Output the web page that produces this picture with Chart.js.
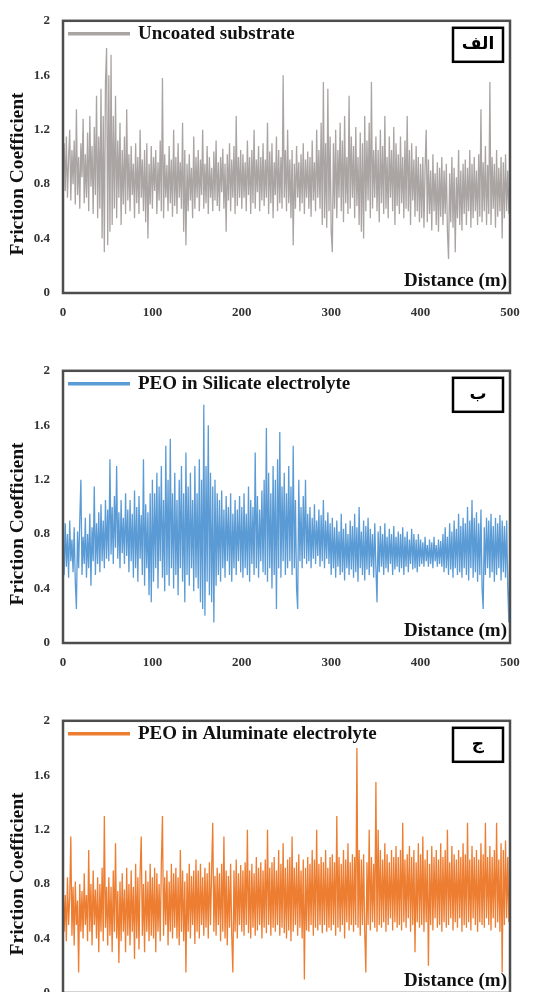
<!DOCTYPE html>
<html lang="en">

<head>
    <meta charset="UTF-8">
    <title>Friction Coefficient</title>
    <script src="https://cdn.jsdelivr.net/npm/chart.js"></script>
    <style>
        body { margin: 0; background: #fff; overflow: hidden; }
        .panel { position: absolute; left: 0; width: 536px; height: 330px; }
    </style>
</head>

<body>

    <div class="panel" style="top: 0px;"><canvas id="chartA" width="536" height="330"></canvas></div>
    <div class="panel" style="top: 350px;"><canvas id="chartB" width="536" height="330"></canvas></div>
    <div class="panel" style="top: 700px;"><canvas id="chartC" width="536" height="330"></canvas></div>

    <script>
        // one sample every 1.25 m, 0 .. 500 m (20 samples = 25 m per row)
        const STEP = 1.25;
        const xTicks = [0, 100, 200, 300, 400, 500];
        const yTicks = [0, 0.4, 0.8, 1.2, 1.6, 2];

        const uncoated = [
            0.9, 1.1, 0.75, 1.15, 0.7, 0.98, 1.2, 0.68, 1.05, 0.8, 1.12, 0.65, 1.35, 0.72, 1.0, 0.62, 1.1, 0.85, 1.28, 0.66,
            1.02, 0.7, 1.18, 0.6, 1.3, 0.78, 1.08, 0.58, 1.22, 0.72, 1.45, 0.55, 1.15, 0.62, 1.5, 0.4, 1.3, 0.3, 1.55, 1.8,
            0.35, 1.6, 0.45, 1.75, 0.5, 1.3, 0.62, 1.45, 0.55, 1.12, 0.7, 1.25, 0.5, 1.05, 0.65, 1.15, 0.58, 1.35, 0.68, 1.02,
            0.6, 1.08, 0.72, 0.95, 0.55, 1.1, 0.66, 1.0, 0.58, 1.2, 0.7, 0.98, 0.6, 1.05, 0.52, 1.1, 0.4, 0.95, 0.65, 1.08,
            0.62, 1.0, 0.75, 1.05, 0.58, 0.96, 0.68, 1.12, 0.6, 1.58, 0.55, 1.02, 0.7, 0.94, 0.6, 1.08, 0.66, 0.98, 0.56, 1.2,
            0.64, 1.0, 0.58, 1.1, 0.7, 0.96, 0.62, 1.25, 0.45, 1.05, 0.35, 0.95, 0.6, 1.02, 0.68, 0.92, 0.55, 1.15, 0.62, 1.0,
            0.7, 1.05, 0.6, 0.98, 0.72, 1.2, 0.62, 0.95, 0.66, 1.08, 0.58, 1.0, 0.7, 0.92, 0.6, 1.04, 0.68, 1.12, 0.64, 0.96,
            0.6, 1.0, 0.74, 1.06, 0.62, 0.95, 0.45, 1.02, 0.68, 1.1, 0.6, 0.98, 0.7, 1.08, 0.58, 1.3, 0.64, 1.0, 0.7, 1.05,
            0.62, 1.02, 0.7, 0.96, 0.6, 1.12, 0.72, 1.0, 0.58, 1.05, 0.66, 1.2, 0.62, 0.98, 0.74, 1.08, 0.6, 1.0, 0.68, 1.1,
            0.64, 0.98, 0.7, 1.25, 0.58, 1.04, 0.66, 1.1, 0.55, 0.96, 0.72, 1.15, 0.6, 1.05, 0.66, 1.0, 0.62, 1.6, 0.7, 1.05,
            0.6, 1.2, 0.66, 0.98, 0.55, 1.05, 0.35, 0.95, 0.62, 1.08, 0.7, 0.96, 0.6, 1.02, 0.66, 1.1, 0.58, 0.98, 0.7, 1.04,
            0.62, 1.0, 0.56, 1.12, 0.68, 0.96, 0.6, 1.2, 0.7, 1.05, 0.62, 1.25, 0.5, 1.55, 0.55, 1.1, 0.48, 1.5, 0.6, 1.15,
            0.45, 0.3, 1.1, 0.62, 1.2, 0.55, 1.05, 0.7, 1.25, 0.6, 1.12, 0.52, 1.3, 0.66, 1.0, 0.58, 1.45, 0.62, 1.15, 0.7,
            1.08, 0.55, 1.22, 0.64, 1.0, 0.5, 1.18, 0.45, 1.1, 0.4, 1.3, 0.6, 1.12, 0.68, 1.25, 0.55, 1.55, 0.62, 1.05, 0.7,
            1.15, 0.6, 1.05, 0.52, 1.2, 0.66, 1.08, 0.58, 1.3, 0.62, 1.0, 0.55, 1.15, 0.7, 1.05, 0.6, 1.22, 0.5, 1.1, 0.64,
            1.02, 0.58, 1.15, 0.66, 1.0, 0.55, 1.12, 0.62, 1.3, 0.6, 1.05, 0.5, 1.1, 0.68, 0.98, 0.56, 1.08, 0.6, 1.0, 0.52,
            0.95, 0.55, 1.0, 0.48, 0.92, 1.2, 0.52, 0.98, 0.58, 0.9, 0.46, 1.02, 0.6, 0.88, 0.5, 0.96, 0.45, 0.92, 0.56, 1.0,
            0.5, 0.9, 0.58, 0.95, 0.45, 0.25, 0.88, 0.52, 1.0, 0.48, 0.92, 0.3, 0.85, 0.55, 1.05, 0.5, 0.9, 0.46, 0.95, 0.58,
            0.98, 0.5, 0.92, 0.6, 1.05, 0.48, 0.95, 0.55, 1.0, 0.6, 0.9, 0.5, 1.02, 0.56, 1.35, 0.52, 0.96, 0.6, 1.08, 0.5,
            0.94, 0.58, 1.55, 0.5, 1.0, 0.62, 0.95, 0.48, 1.05, 0.56, 0.92, 0.6, 1.0, 0.4, 0.96, 0.55, 1.02, 0.6, 0.9, 0.58,
            0.85
        ];

        const silicate = [
            0.72, 0.5, 0.88, 0.56, 0.8, 0.48, 0.9, 0.6, 0.76, 0.52, 0.85, 0.45, 0.25, 0.82, 0.55, 0.9, 1.2, 0.5, 0.78, 0.58,
            0.92, 0.48, 0.8, 0.55, 0.95, 0.42, 0.85, 0.6, 1.15, 0.5, 0.88, 0.58, 0.96, 0.52, 1.02, 0.6, 0.9, 0.55, 1.05, 0.62,
            0.98, 0.6, 1.35, 0.65, 1.0, 0.58, 1.08, 0.7, 1.3, 0.62, 0.96, 0.55, 1.05, 0.66, 0.92, 0.58, 1.1, 0.64, 0.98, 0.52,
            1.05, 0.6, 0.95, 0.48, 1.12, 0.55, 1.0, 0.45, 1.08, 0.62, 0.94, 0.5, 1.35, 0.42, 1.02, 0.55, 0.96, 0.35, 1.1, 0.3,
            1.2, 0.45, 1.1, 0.55, 1.25, 0.4, 1.15, 0.6, 1.3, 0.48, 1.05, 0.38, 1.45, 0.5, 1.2, 0.42, 1.5, 0.55, 1.1, 0.4,
            1.25, 0.5, 1.05, 0.35, 1.2, 0.55, 1.3, 0.45, 1.1, 0.3, 1.4, 0.5, 1.15, 0.42, 1.25, 0.55, 1.05, 0.38, 1.3, 0.48,
            1.1, 0.4, 1.35, 0.3, 1.2, 0.25, 1.75, 0.2, 1.3, 0.45, 1.6, 0.35, 1.25, 0.3, 1.15, 0.15, 1.2, 0.42, 1.1, 0.5,
            1.05, 0.45, 1.12, 0.55, 0.98, 0.48, 1.08, 0.6, 1.0, 0.5, 1.1, 0.45, 0.95, 0.55, 1.05, 0.5, 0.98, 0.6, 1.08, 0.52,
            1.0, 0.48, 1.1, 0.55, 0.95, 0.5, 1.15, 0.45, 1.05, 0.58, 1.0, 0.5, 1.4, 0.55, 1.08, 0.48, 0.98, 0.6, 1.12, 0.52,
            1.2, 0.5, 1.58, 0.45, 1.25, 0.55, 1.1, 0.4, 1.3, 0.5, 1.2, 0.25, 1.35, 0.55, 1.55, 0.48, 1.15, 0.6, 1.25, 0.5,
            1.1, 0.55, 1.3, 0.6, 1.15, 0.5, 1.45, 0.55, 1.05, 0.4, 0.25, 1.2, 0.6, 1.0, 0.55, 1.08, 0.62, 1.2, 0.58, 0.95,
            0.6, 1.0, 0.55, 0.92, 0.62, 1.02, 0.58, 0.9, 0.64, 0.98, 0.56, 0.94, 0.6, 1.05, 0.55, 0.9, 0.62, 0.96, 0.58, 0.88,
            0.5, 0.92, 0.55, 0.85, 0.48, 0.9, 0.56, 0.82, 0.5, 0.95, 0.52, 0.84, 0.46, 0.88, 0.55, 0.8, 0.5, 0.9, 0.54, 0.86,
            0.48, 0.95, 0.52, 0.85, 0.45, 1.0, 0.55, 0.82, 0.5, 0.9, 0.46, 0.86, 0.54, 0.92, 0.5, 0.84, 0.56, 0.8, 0.48, 0.88,
            0.55, 0.3, 0.82, 0.52, 0.86, 0.56, 0.8, 0.5, 0.88, 0.55, 0.78, 0.52, 0.84, 0.58, 0.8, 0.5, 0.86, 0.54, 0.78, 0.56,
            0.82, 0.52, 0.8, 0.55, 0.85, 0.5, 0.78, 0.56, 0.82, 0.52, 0.76, 0.58, 0.84, 0.54, 0.8, 0.55, 0.76, 0.52, 0.8, 0.56,
            0.76, 0.58, 0.74, 0.56, 0.78, 0.6, 0.72, 0.56, 0.76, 0.58, 0.74, 0.55, 0.78, 0.6, 0.72, 0.56, 0.76, 0.58, 0.75, 0.56,
            0.8, 0.52, 0.85, 0.55, 0.78, 0.5, 0.88, 0.54, 0.82, 0.48, 0.9, 0.55, 0.84, 0.5, 0.95, 0.52, 0.86, 0.48, 0.92, 0.55,
            0.88, 0.5, 1.0, 0.46, 0.9, 0.55, 1.05, 0.48, 0.92, 0.52, 0.96, 0.45, 0.88, 0.5, 0.98, 0.4, 0.25, 0.85, 0.5, 0.92,
            0.55, 0.9, 0.48, 0.95, 0.52, 0.86, 0.45, 0.92, 0.5, 0.88, 0.55, 0.94, 0.46, 0.9, 0.52, 0.86, 0.48, 0.9, 0.4, 0.15,
            0.85
        ];

        const aluminate = [
            0.8, 0.45, 0.72, 0.38, 0.85, 0.5, 0.7, 1.15, 0.42, 0.78, 0.35, 0.82, 0.5, 0.68, 0.15, 0.8, 0.45, 0.75, 0.4, 0.88,
            0.5, 0.72, 0.38, 1.05, 0.45, 0.8, 0.35, 0.9, 0.5, 0.76, 0.4, 0.85, 0.3, 0.8, 0.45, 0.92, 0.38, 1.3, 0.48, 0.78,
            0.35, 0.85, 0.42, 0.78, 0.3, 0.9, 0.45, 1.1, 0.4, 0.75, 0.22, 0.82, 0.38, 0.88, 0.45, 0.76, 0.3, 0.92, 0.42, 0.8,
            0.35, 0.9, 0.45, 0.78, 0.25, 0.95, 0.4, 0.85, 0.32, 0.88, 1.15, 0.42, 0.8, 0.3, 0.9, 0.45, 0.82, 0.38, 0.95, 0.42,
            0.85, 0.4, 0.92, 0.3, 0.88, 0.45, 0.8, 0.38, 0.95, 1.3, 0.42, 0.85, 0.5, 0.9, 0.35, 0.82, 0.45, 0.95, 0.4, 0.88,
            0.48, 0.92, 0.4, 0.85, 0.35, 1.05, 0.45, 0.9, 0.38, 0.82, 0.15, 0.88, 0.45, 0.95, 0.4, 0.86, 0.5, 0.9, 0.36, 0.98,
            0.45, 0.9, 0.4, 0.95, 0.5, 0.85, 0.42, 0.92, 0.48, 0.88, 0.4, 0.96, 0.5, 0.9, 1.25, 0.45, 0.86, 0.42, 0.92, 0.5,
            0.88, 0.38, 0.95, 0.45, 1.15, 0.4, 0.9, 0.35, 0.86, 0.48, 0.95, 0.42, 0.15, 0.9, 0.45, 0.98, 0.4, 0.88, 0.5, 0.94,
            0.45, 0.9, 0.42, 0.96, 0.5, 1.2, 0.44, 0.9, 0.4, 0.95, 0.48, 0.88, 0.42, 1.0, 0.46, 0.92, 0.5, 0.96, 0.4, 0.9,
            0.48, 0.98, 0.44, 1.2, 0.5, 0.92, 0.42, 0.96, 0.48, 1.0, 0.45, 0.9, 0.5, 1.05, 0.42, 0.95, 0.48, 1.1, 0.44, 0.92,
            0.4, 0.98, 0.46, 1.0, 0.38, 1.15, 0.45, 0.92, 0.5, 0.96, 0.42, 1.02, 0.48, 0.9, 0.4, 0.98, 0.1, 0.92, 0.46, 1.0,
            0.45, 0.95, 0.5, 1.05, 0.42, 0.98, 0.48, 1.2, 0.46, 0.95, 0.5, 1.0, 0.44, 0.96, 0.5, 1.05, 0.45, 0.92, 0.48, 1.0,
            0.46, 1.02, 0.5, 0.96, 0.42, 1.3, 0.48, 1.0, 0.45, 0.95, 0.5, 1.05, 0.4, 0.98, 0.52, 1.1, 0.46, 0.96, 0.5, 1.02,
            0.45, 1.0, 0.5, 1.8, 0.48, 1.05, 0.42, 0.98, 0.5, 1.02, 0.45, 0.15, 0.96, 0.5, 1.2, 0.46, 1.0, 0.52, 0.95, 0.48,
            1.55, 0.45, 1.2, 0.5, 1.05, 0.48, 0.98, 0.52, 1.1, 0.45, 1.02, 0.5, 0.96, 0.55, 1.05, 0.46, 1.0, 0.52, 1.08, 0.48,
            1.0, 0.5, 1.05, 0.46, 1.25, 0.52, 0.98, 0.48, 1.02, 0.55, 1.08, 0.45, 1.0, 0.5, 1.05, 0.3, 0.96, 0.52, 1.1, 0.48,
            1.02, 0.5, 1.15, 0.45, 0.98, 0.52, 1.05, 0.2, 0.95, 0.5, 1.08, 0.46, 1.0, 0.55, 1.05, 0.48, 0.98, 0.5, 1.1, 0.45,
            1.0, 0.52, 1.05, 0.48, 1.2, 0.5, 0.96, 0.55, 1.08, 0.46, 1.02, 0.52, 0.98, 0.48, 1.05, 0.55, 1.0, 0.45, 1.1, 0.5,
            1.02, 0.48, 1.25, 0.52, 0.98, 0.46, 1.08, 0.55, 1.0, 0.5, 1.05, 0.45, 0.98, 0.52, 1.1, 0.5, 1.02, 0.48, 1.25, 0.55,
            1.0, 0.5, 1.08, 0.46, 1.0, 0.55, 1.05, 0.48, 1.25, 0.52, 0.98, 0.45, 1.1, 0.15, 1.05, 0.5, 1.12, 0.55, 1.0, 0.52,
            0.8
        ];

        const SERIF = '"Liberation Serif", "Times New Roman", serif';

        // frame, legend, panel tag and axis titles drawn on top of the plot
        const decorations = {
            id: 'decorations',
            afterDraw(chart, args, opts) {
                const ctx = chart.ctx;
                const a = chart.chartArea;
                ctx.save();

                // plot frame
                ctx.strokeStyle = '#4d4d4d';
                ctx.lineWidth = 2.5;
                ctx.strokeRect(a.left, a.top, a.right - a.left, a.bottom - a.top);

                // legend line + text
                const ds = chart.data.datasets[0];
                ctx.strokeStyle = ds.borderColor;
                ctx.lineWidth = 3.5;
                ctx.beginPath();
                ctx.moveTo(a.left + 5, a.top + 13);
                ctx.lineTo(a.left + 67, a.top + 13);
                ctx.stroke();
                ctx.fillStyle = '#111';
                ctx.font = 'bold 19px ' + SERIF;
                ctx.textAlign = 'left';
                ctx.textBaseline = 'middle';
                ctx.fillText(ds.label, a.left + 75, a.top + 13);

                // panel tag box
                ctx.strokeStyle = '#000';
                ctx.lineWidth = 2.5;
                ctx.fillStyle = '#fff';
                ctx.fillRect(a.right - 57, a.top + 7, 50, 34);
                ctx.strokeRect(a.right - 57, a.top + 7, 50, 34);
                ctx.fillStyle = '#000';
                ctx.font = 'bold 17px "DejaVu Sans", sans-serif';
                ctx.textAlign = 'center';
                ctx.fillText(opts.tag, a.right - 32, a.top + 24);

                // x title inside the plot
                ctx.font = 'bold 19px ' + SERIF;
                ctx.textAlign = 'right';
                ctx.fillStyle = '#111';
                ctx.fillText('Distance (m)', a.right - 3, a.bottom - 12);

                // y title
                ctx.font = 'bold 19.5px ' + SERIF;
                ctx.translate(18, (a.top + a.bottom) / 2 + 17);
                ctx.rotate(-Math.PI / 2);
                ctx.textAlign = 'center';
                ctx.fillText('Friction Coefficient', 0, 0);

                ctx.restore();
            }
        };

        function makePanel(id, label, tag, color, values) {
            const points = values.map((v, i) => ({ x: i * STEP, y: v }));
            return new Chart(document.getElementById(id), {
                type: 'line',
                data: {
                    datasets: [{
                        label: label,
                        data: points,
                        borderColor: color,
                        borderWidth: 1.3,
                        pointRadius: 0,
                        tension: 0
                    }]
                },
                options: {
                    responsive: false,
                    animation: false,
                    layout: { padding: { left: 0, right: 26, top: 20, bottom: 0 } },
                    plugins: {
                        legend: { display: false },
                        tooltip: { enabled: false },
                        decorations: { tag: tag }
                    },
                    scales: {
                        x: {
                            type: 'linear',
                            min: 0,
                            max: 500,
                            grid: { display: false, drawTicks: false },
                            border: { display: false },
                            afterBuildTicks: axis => { axis.ticks = xTicks.map(v => ({ value: v })); },
                            afterFit: axis => { axis.height = 37; },
                            ticks: {
                                padding: 12,
                                color: '#333',
                                font: { family: SERIF, size: 13, weight: 'bold' }
                            }
                        },
                        y: {
                            min: 0,
                            max: 2,
                            grid: { display: false, drawTicks: false },
                            border: { display: false },
                            afterBuildTicks: axis => { axis.ticks = yTicks.map(v => ({ value: v })); },
                            afterFit: axis => { axis.width = 63; },
                            ticks: {
                                padding: 13,
                                color: '#333',
                                font: { family: SERIF, size: 13, weight: 'bold' },
                                callback: v => String(+v.toFixed(1))
                            }
                        }
                    }
                },
                plugins: [decorations]
            });
        }

        makePanel('chartA', 'Uncoated substrate', 'الف', '#aaa5a3', uncoated);
        makePanel('chartB', 'PEO in Silicate electrolyte', 'ب', '#5b9bd5', silicate);
        makePanel('chartC', 'PEO in Aluminate electrolyte', 'ج', '#ed7d31', aluminate);
    </script>
</body>

</html>
